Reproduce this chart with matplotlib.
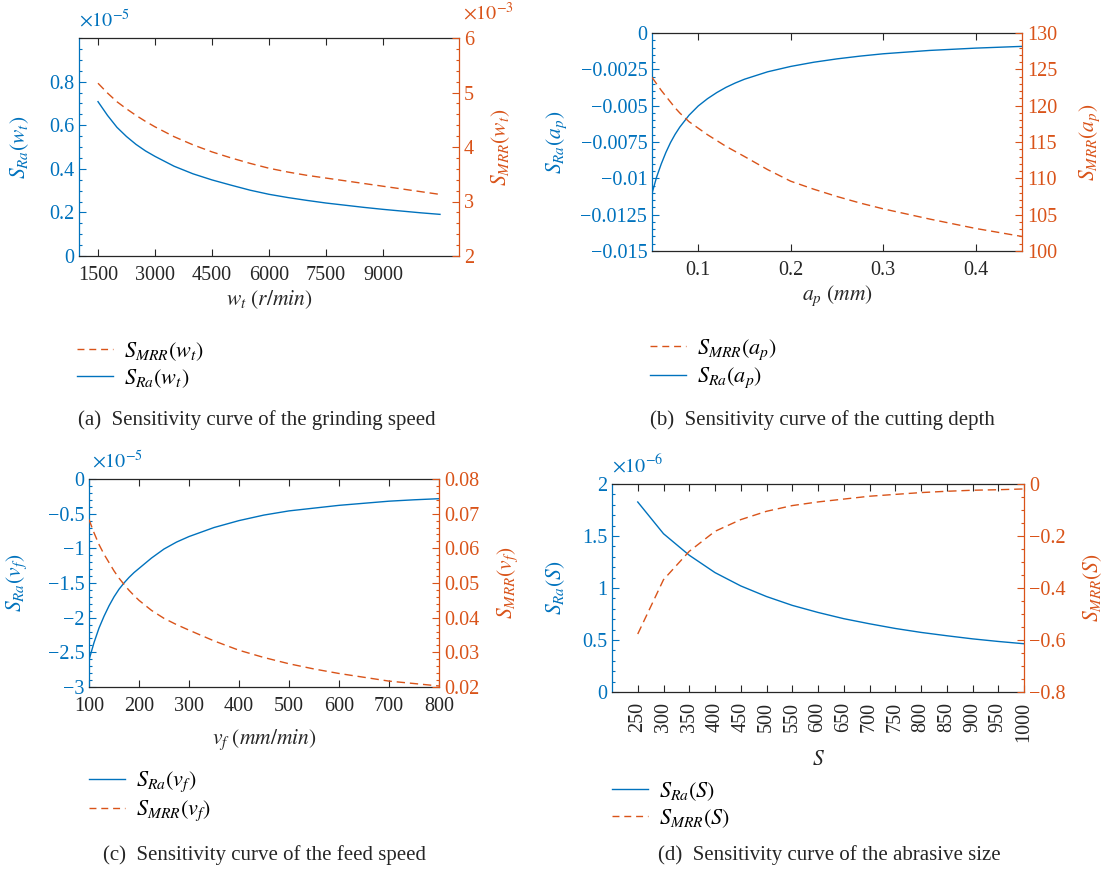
import matplotlib
matplotlib.use('Agg')
import matplotlib.pyplot as plt
from matplotlib import ticker
from matplotlib.lines import Line2D

plt.rcParams['font.family'] = ['Liberation Serif', 'DejaVu Serif']
plt.rcParams['mathtext.fontset'] = 'stix'
plt.rcParams['axes.unicode_minus'] = True

BLUE = '#0072BD'
ORANGE = '#D95319'
DARK = '#262626'

# (a) grinding speed
wt = [1500, 1750, 2000, 2250, 2500, 2750, 3000, 3500, 4000, 4500, 5000, 5500, 6000, 6500,
      7000, 7500, 8000, 8500, 9000, 9500, 10000, 10500]
sra_wt = [0.708e-5, 0.645e-5, 0.59e-5, 0.548e-5, 0.512e-5, 0.482e-5, 0.457e-5, 0.412e-5,
          0.377e-5, 0.349e-5, 0.325e-5, 0.302e-5, 0.283e-5, 0.268e-5, 0.255e-5, 0.243e-5,
          0.233e-5, 0.223e-5, 0.214e-5, 0.206e-5, 0.198e-5, 0.191e-5]
smrr_wt = [5.17e-3, 4.99e-3, 4.83e-3, 4.70e-3, 4.58e-3, 4.47e-3, 4.37e-3, 4.19e-3, 4.04e-3,
           3.91e-3, 3.80e-3, 3.70e-3, 3.61e-3, 3.54e-3, 3.48e-3, 3.43e-3, 3.38e-3, 3.33e-3,
           3.28e-3, 3.23e-3, 3.18e-3, 3.13e-3]

# (b) cutting depth
ap = [0.05, 0.055, 0.06, 0.065, 0.07, 0.075, 0.08, 0.09, 0.1, 0.11, 0.12, 0.13, 0.14, 0.15,
      0.175, 0.2, 0.225, 0.25, 0.275, 0.3, 0.35, 0.4, 0.45]
sra_ap = [-0.01104, -0.00991, -0.00901, -0.00822, -0.00754, -0.00697, -0.00648, -0.00566,
          -0.00502, -0.00452, -0.00410, -0.00374, -0.00344, -0.00318, -0.00267, -0.0023,
          -0.00201, -0.00178, -0.00159, -0.00143, -0.0012, -0.00104, -0.00092]
smrr_ap = [123.9, 123.0, 122.1, 121.3, 120.5, 119.7, 119.0, 117.8, 116.9, 116.0, 115.2,
           114.4, 113.7, 113.0, 111.2, 109.6, 108.5, 107.5, 106.6, 105.8, 104.4, 103.1, 102.0]

# (c) feed speed
vf = [100, 110, 120, 130, 140, 150, 160, 170, 180, 190, 200, 225, 250, 275, 300, 350, 400,
      450, 500, 550, 600, 650, 700, 750, 800]
sra_vf = [-2.61e-5, -2.36e-5, -2.15e-5, -1.98e-5, -1.83e-5, -1.70e-5, -1.59e-5, -1.50e-5,
          -1.42e-5, -1.35e-5, -1.29e-5, -1.14e-5, -1.01e-5, -0.91e-5, -0.83e-5, -0.70e-5,
          -0.60e-5, -0.52e-5, -0.46e-5, -0.42e-5, -0.38e-5, -0.35e-5, -0.32e-5, -0.30e-5,
          -0.284e-5]
smrr_vf = [0.0683, 0.0645, 0.0611, 0.0583, 0.0559, 0.0535, 0.0514, 0.0496, 0.0479, 0.0464,
           0.0450, 0.0421, 0.0398, 0.0380, 0.0364, 0.0333, 0.0306, 0.0285, 0.0267, 0.0252,
           0.0239, 0.0228, 0.0217, 0.0210, 0.0203]

# (d) abrasive size
s = [250, 300, 350, 400, 450, 500, 550, 600, 650, 700, 750, 800, 850, 900, 950, 1000]
sra_s = [1.827e-6, 1.522e-6, 1.315e-6, 1.148e-6, 1.02e-6, 0.918e-6, 0.833e-6, 0.765e-6,
         0.705e-6, 0.656e-6, 0.611e-6, 0.573e-6, 0.541e-6, 0.511e-6, 0.486e-6, 0.464e-6]
smrr_s = [-0.577, -0.368, -0.259, -0.182, -0.137, -0.105, -0.083, -0.069, -0.058, -0.047,
          -0.040, -0.033, -0.028, -0.024, -0.022, -0.019]

W, H = 1103, 873
fig = plt.figure(figsize=(W / 100, H / 100), dpi=100)
TICK = 14.5
DASH = (6, 3.5)


def rect(x0, y0, x1, y1):
    return [x0 / W, (H - y1) / H, (x1 - x0) / W, (y1 - y0) / H]


def fmt(scale):
    def f(v, pos):
        return ('%g' % round(v / scale, 6)).replace('-', '\u2212')
    return ticker.FuncFormatter(f)


def panel(box, x, y1, y2, xlim, xticks, ylim1, yt1, sc1, ylim2, yt2, sc2, mn1, mn2,
          xlab, ylab1, ylab2, xlab_y, yl1_x, yl2_x, rot=0):
    ax = fig.add_axes(rect(*box))
    ax2 = ax.twinx()
    ax.plot(x, y1, color=BLUE, lw=1.0)
    ax2.plot(x, y2, color=ORANGE, lw=1.0, dashes=DASH)
    ax.set_xlim(xlim)
    ax.set_xticks(xticks)
    if rot:
        ax.set_xticklabels([str(v) for v in xticks], rotation=90)
    ax.set_ylim(ylim1)
    ax.set_yticks(yt1)
    ax.yaxis.set_major_formatter(fmt(sc1))
    ax.yaxis.set_minor_locator(ticker.AutoMinorLocator(mn1))
    ax2.set_ylim(ylim2)
    ax2.set_yticks(yt2)
    ax2.yaxis.set_major_formatter(fmt(sc2))
    ax2.yaxis.set_minor_locator(ticker.AutoMinorLocator(mn2))

    for sp in ['top', 'bottom']:
        ax.spines[sp].set_color(DARK)
        ax2.spines[sp].set_visible(False)
    ax.spines['left'].set_color(BLUE)
    ax.spines['right'].set_visible(False)
    ax2.spines['left'].set_visible(False)
    ax2.spines['right'].set_color(ORANGE)
    for sp in ax.spines.values():
        sp.set_linewidth(0.9)
    ax2.spines['right'].set_linewidth(0.9)

    ax.tick_params(axis='x', direction='in', top=True, length=5, width=0.8, colors=DARK,
                   labelsize=TICK, pad=7)
    ax.tick_params(axis='y', which='both', direction='in', right=False, colors=BLUE,
                   labelsize=TICK, width=0.8)
    ax.tick_params(axis='y', which='major', length=5)
    ax.tick_params(axis='y', which='minor', length=2.5)
    ax2.tick_params(axis='y', which='both', direction='in', colors=ORANGE,
                    labelsize=TICK, width=0.8)
    ax2.tick_params(axis='y', which='major', length=5)
    ax2.tick_params(axis='y', which='minor', length=2.5)

    ax.set_xlabel(xlab, fontsize=15.5, color=DARK)
    ax.xaxis.set_label_coords(0.5, xlab_y)
    ax.set_ylabel(ylab1, fontsize=15.5, color=BLUE)
    ax.yaxis.set_label_coords(yl1_x, 0.5)
    ax2.set_ylabel(ylab2, fontsize=15.5, color=ORANGE)
    ax2.yaxis.set_label_coords(yl2_x, 0.5)
    return ax, ax2


def leg(handles, labels, xpx, ypx):
    fig.legend(handles, labels, loc='upper left', bbox_to_anchor=(xpx / W, 1 - ypx / H),
               frameon=False, fontsize=16, handlelength=1.6, handletextpad=0.5,
               labelspacing=0.2, borderpad=0, borderaxespad=0)


def caption(text, xpx, ypx):
    fig.text(xpx / W, 1 - ypx / H, text, fontsize=15, va='center', ha='left', color=DARK)


solid = Line2D([], [], color=BLUE, lw=1.0)
dash = Line2D([], [], color=ORANGE, lw=1.0, dashes=(5, 3.5))

# (a)
ax, ax2 = panel((79, 38, 459, 256), wt, sra_wt, smrr_wt, (1000, 11000),
                [1500, 3000, 4500, 6000, 7500, 9000],
                (0, 1.0e-5), [0, 0.2e-5, 0.4e-5, 0.6e-5, 0.8e-5], 1e-5,
                (2e-3, 6e-3), [2e-3, 3e-3, 4e-3, 5e-3, 6e-3], 1e-3, 4, 5,
                r'$w_t\ (r/min)$', r'$S_{Ra}(w_t)$', r'$S_{MRR}(w_t)$',
                -0.15, -0.125, 1.08)
ax.text(0.0, 1.03, r'$\times10^{-5}$', transform=ax.transAxes, color=BLUE,
        fontsize=TICK, ha='left', va='bottom')
ax.text(1.01, 1.06, r'$\times10^{-3}$', transform=ax.transAxes, color=ORANGE,
        fontsize=TICK, ha='left', va='bottom')
leg([dash, solid], [r'$S_{MRR}(w_t)$', r'$S_{Ra}(w_t)$'], 77, 340)
caption('(a)  Sensitivity curve of the grinding speed', 78, 420)

# (b)
ax, ax2 = panel((652, 33, 1022, 251), ap, sra_ap, smrr_ap, (0.05, 0.45),
                [0.1, 0.2, 0.3, 0.4],
                (-0.015, 0), [-0.015, -0.0125, -0.01, -0.0075, -0.005, -0.0025, 0], 1,
                (100, 130), [100, 105, 110, 115, 120, 125, 130], 1, 5, 5,
                r'$a_p\ (mm)$', r'$S_{Ra}(a_p)$', r'$S_{MRR}(a_p)$',
                -0.15, -0.225, 1.15)
leg([dash, solid], [r'$S_{MRR}(a_p)$', r'$S_{Ra}(a_p)$'], 650, 337)
caption('(b)  Sensitivity curve of the cutting depth', 650, 420)

# (c)
ax, ax2 = panel((89, 479, 439, 687), vf, sra_vf, smrr_vf, (100, 800),
                [100, 200, 300, 400, 500, 600, 700, 800],
                (-3e-5, 0), [-3e-5, -2.5e-5, -2e-5, -1.5e-5, -1e-5, -0.5e-5, 0], 1e-5,
                (0.02, 0.08), [0.02, 0.03, 0.04, 0.05, 0.06, 0.07, 0.08], 1, 5, 5,
                r'$v_f\ (mm/min)$', r'$S_{Ra}(v_f)$', r'$S_{MRR}(v_f)$',
                -0.195, -0.17, 1.16)
ax.text(0.01, 1.03, r'$\times10^{-5}$', transform=ax.transAxes, color=BLUE,
        fontsize=TICK, ha='left', va='bottom')
leg([solid, dash], [r'$S_{Ra}(v_f)$', r'$S_{MRR}(v_f)$'], 89, 770)
caption('(c)  Sensitivity curve of the feed speed', 103, 855)

# (d)
ax, ax2 = panel((612, 484, 1024, 692), s, sra_s, smrr_s, (200, 1000),
                s,
                (0, 2e-6), [0, 0.5e-6, 1e-6, 1.5e-6, 2e-6], 1e-6,
                (-0.8, 0), [-0.8, -0.6, -0.4, -0.2, 0], 1, 5, 4,
                r'$S$', r'$S_{Ra}(S)$', r'$S_{MRR}(S)$',
                -0.285, -0.11, 1.14, rot=90)
ax.text(0.0, 1.03, r'$\times10^{-6}$', transform=ax.transAxes, color=BLUE,
        fontsize=TICK, ha='left', va='bottom')
leg([solid, dash], [r'$S_{Ra}(S)$', r'$S_{MRR}(S)$'], 612, 780)
caption('(d)  Sensitivity curve of the abrasive size', 658, 855)

plt.savefig('out.png', dpi=100)
